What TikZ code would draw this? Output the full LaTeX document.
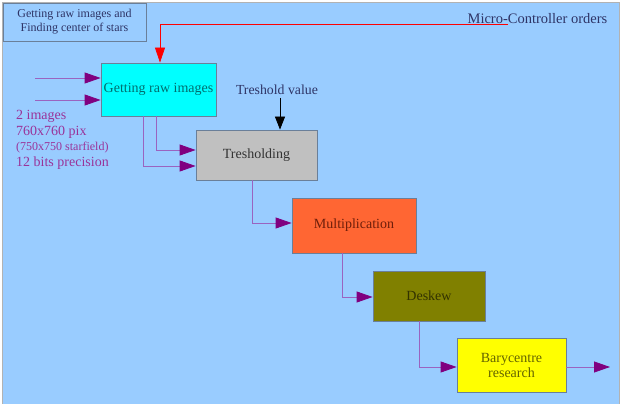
\documentclass[tikz,border=0pt]{standalone}
\usepackage{fontspec}
\setmainfont{Liberation Serif}
\usepackage{xcolor}
\usetikzlibrary{arrows.meta}

\definecolor{fondo}{HTML}{99CCFF}
\definecolor{borde}{HTML}{6A7F99}
\definecolor{flujo}{HTML}{9A63C0}
\definecolor{punta}{HTML}{800080}
\definecolor{textoin}{HTML}{993399}
\definecolor{marino}{HTML}{2E3466}
\definecolor{celeste}{HTML}{00FFFF}
\definecolor{amarillo}{HTML}{FFFF00}
\definecolor{oliva}{HTML}{808000}

\begin{document}
\begin{tikzpicture}[x=1pt, y=-1pt,
    bloque/.style={draw=borde, line width=0.8pt, inner sep=0pt, align=center,
                   font=\fontsize{14}{15}\selectfont},
    flecha/.style={draw=flujo, line width=0.8pt,
                   -{Triangle[length=16pt, width=11pt, color=punta]}}]
  \useasboundingbox (0,0) rectangle (625,404);
  % Fondo
  \fill[white] (0,0) rectangle (625,404);
  \draw[fill=fondo, draw=gray!60] (2,2) rectangle (619,410);

  % Titulo
  \draw[borde, line width=0.6pt] (3,3) rectangle (146,41);
  \node[align=center, text=marino, font=\fontsize{12}{14}\selectfont] (titulo) at (74.5,22)
    {Getting raw images and\\Finding center of stars};

  % Bloques de la cadena
  \node[bloque, fill=celeste, text={rgb,255:red,0;green,110;blue,110}, minimum width=115pt, minimum height=53pt] (raw) at (158.5,89.5) {Getting raw images};
  \node[bloque, fill={rgb,255:red,192;green,192;blue,192}, text=black!80, minimum width=121pt, minimum height=50pt] (thr) at (256.5,155) {Tresholding};
  \node[bloque, fill={rgb,255:red,255;green,102;blue,51}, text={rgb,255:red,110;green,30;blue,10}, minimum width=124pt, minimum height=55pt] (mult) at (354,225.5) {Multiplication};
  \node[bloque, fill=oliva, text={rgb,255:red,50;green,50;blue,0}, minimum width=112pt, minimum height=50pt] (desk) at (429,296) {Deskew};
  \node[bloque, fill=amarillo, text={rgb,255:red,100;green,100;blue,0}, minimum width=109pt, minimum height=54pt] (bary) at (511.5,365) {Barycentre\\research};

  % Entradas
  \coordinate (in1) at (35,78);
  \coordinate (in2) at (35,100);
  \draw[flecha] (in1) -- (in1 -| raw.west);
  \draw[flecha] (in2) -- (in2 -| raw.west);
  \node[anchor=north west, align=left, inner sep=0pt, text=textoin, font=\fontsize{14}{15.7}\selectfont] (datos) at (16,110)
    {2 images\\760x760 pix\\{\fontsize{12}{15.7}\selectfont (750x750 starfield)}\\12 bits precision};

  % Ordenes del micro-controlador
  \node[text=marino, font=\fontsize{14.5}{16}\selectfont] (orden) at (537.5,19) {Micro-Controller orders};
  \coordinate (ordfin) at (508,24);
  \draw[red, line width=0.7pt, -{Triangle[length=15pt, width=10pt]}] (ordfin) -| ([xshift=1.5pt]raw.north);

  % Umbral
  \node[text=marino, font=\fontsize{13.8}{15}\selectfont] (umbral) at (277,90) {Treshold value};
  \coordinate (u0) at (280,98);
  \draw[black, line width=0.8pt, -{Triangle[length=13pt, width=10pt]}] (u0) -- (u0 |- thr.north);

  % Conexiones entre bloques
  \draw[flecha] ([xshift=-2.5pt]raw.south) |- ([yshift=5pt]thr.west);
  \draw[flecha] ([xshift=-15.5pt]raw.south) |- ([yshift=-11pt]thr.west);
  \draw[flecha] ([xshift=-4.5pt]thr.south) |- ([yshift=2.5pt]mult.west);
  \draw[flecha] ([xshift=-12pt]mult.south) |- ([yshift=-1pt]desk.west);
  \draw[flecha] ([xshift=-10pt]desk.south) |- ([yshift=-2pt]bary.west);

  % Salida
  \coordinate (out) at (610,367);
  \draw[flecha] (bary.east |- out) -- (out);
\end{tikzpicture}
\end{document}
